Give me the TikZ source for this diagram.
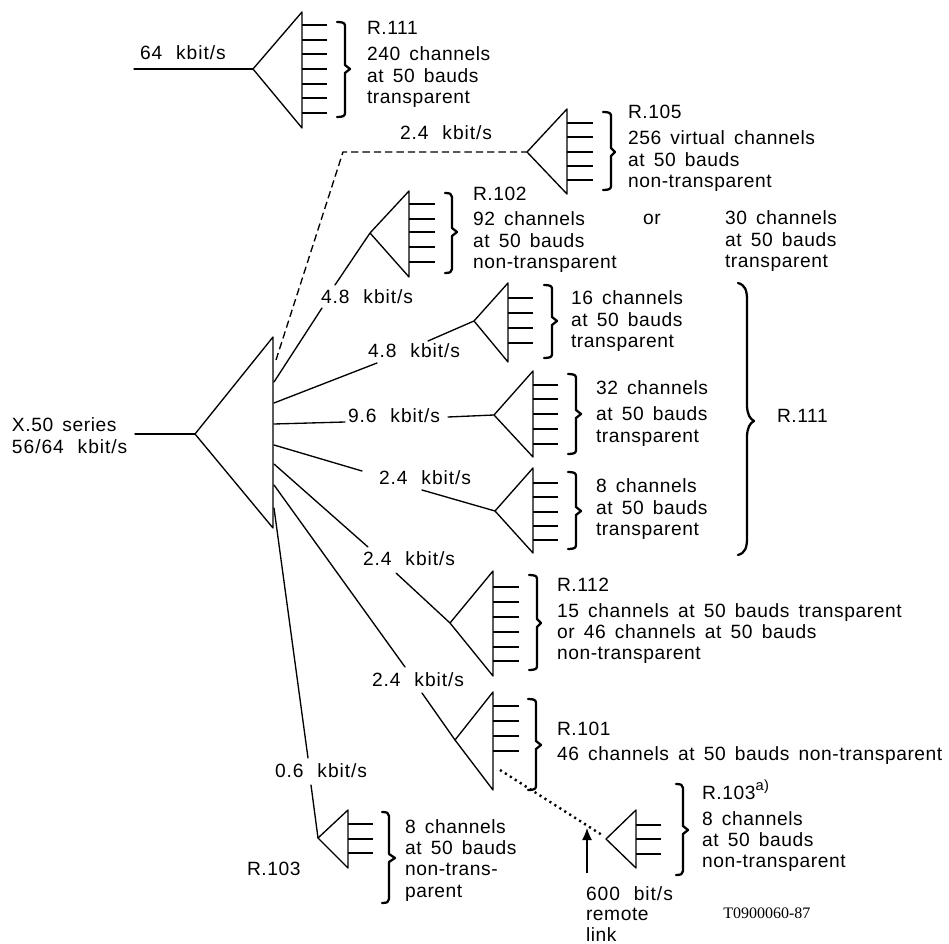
\documentclass[tikz,border=0pt]{standalone}
\usepackage{fontspec}
\setmainfont[LetterSpace=3,WordSpace=1.55]{Liberation Sans}
\newfontfamily\ratefont[LetterSpace=5,WordSpace=2.2]{Liberation Sans}
\newfontfamily\codefont{Liberation Serif}
\usetikzlibrary{arrows.meta}
\tikzset{
  wire/.style={line width=1pt,line cap=round,line join=round},
  stub/.style={line width=1pt},
  bracket/.style={line width=1.7pt,line join=round,line cap=round},
  lab/.style={anchor=base west,inner sep=0pt,outer sep=0pt,font=\fontsize{14.4}{16.1}\selectfont},
  rate/.style={anchor=base west,inner sep=0pt,outer sep=0pt,font=\ratefont\fontsize{14.4}{16.1}\selectfont},
  dashwire/.style={line width=1pt,dash pattern=on 5.5pt off 3pt},
  dotwire/.style={line width=1.8pt,dash pattern=on 1.6pt off 2.8pt},
}
\newcommand{\lns}[1]{\begin{tabular}[t]{@{}l@{}}#1\end{tabular}}
% fan: name, apex x,y, side x, top, bottom, stub end x, stub ys
\newcommand{\fan}[8]{%
  \coordinate (#1) at (#2,#3);
  \coordinate (#1t) at (#4,#5);
  \coordinate (#1b) at (#4,#6);
  \draw[wire] (#1t) -- (#1) -- (#1b) -- cycle;
  \foreach \yy in {#8} {\draw[stub] (#4,\yy) -- (#7,\yy);}
}
% bracket: x, top, bottom, mid, left x, tip x
\newcommand{\brk}[6]{%
  \draw[bracket] (#5,#2) .. controls (#1-2,#2) and (#1,#2+1) .. (#1,#2+4)
    -- (#1,#4-4) -- (#6,#4) -- (#1,#4+4) -- (#1,#3-4)
    .. controls (#1,#3-1) and (#1-2,#3) .. (#5,#3);
}
\begin{document}
\begin{tikzpicture}[x=0.75pt,y=-0.75pt]
\useasboundingbox (0,0) rectangle (949,944);

% main fan
\fan{M}{195}{434}{273}{337}{528}{273}{}
\coordinate (Min) at (135,434);
\draw[wire] (Min) -- (M);
\node[lab] (xfifty) at (12,432) {\lns{X.50 series\\{\ratefont 56/64 kbit/s}}};

% top fan
\fan{A}{253}{69}{302}{12}{128}{327}{25,40,54,69,84,98,113}
\coordinate (Ain) at (134,69);
\draw[wire] (Ain) -- (A);
\node[rate] (la) at (140,60) {64 kbit/s};
\brk{345}{22}{117}{69}{337}{350}
\node[lab] (ta0) at (367,35) {R.111};
\node[lab] (ta) at (367,61) {\lns{240 channels\\at 50 bauds\\transparent}};

% R.105
\fan{B}{527}{152}{567}{109}{194}{593}{123,137,152,166,180}
\coordinate (Mb) at (276,360);
\coordinate (Bk) at (343,152);
\draw[dashwire] (Mb) -- (Bk) -- (B);
\node[rate] (lb) at (400,140) {2.4 kbit/s};
\brk{611}{112}{190}{152}{603}{615}
\node[lab] (tb0) at (628,119) {R.105};
\node[lab] (tb) at (628,145) {\lns{256 virtual channels\\at 50 bauds\\non-transparent}};

% R.102
\fan{C}{370}{233}{409}{191}{277}{435}{204,219,232,247,262}
\coordinate (Mc) at (274,382);
\coordinate (Mc1) at (322,308);
\coordinate (Cc) at (335,285);
\draw[wire] (Mc) -- (Mc1);
\draw[wire] (Cc) -- (C);
\node[rate] (lc) at (321,304) {4.8 kbit/s};
\brk{452}{193}{273}{232}{445}{457}
\node[lab] (tc0) at (473,201) {R.102};
\node[lab] (tc) at (473,226) {\lns{92 channels\\at 50 bauds\\non-transparent}};
\node[lab] (tcor) at (643,225) {or};
\node[lab] (tc2) at (725,225) {\lns{30 channels\\at 50 bauds\\transparent}};

% 16 channels
\fan{D}{474}{321}{508}{283}{362}{533}{298,313,328,343}
\coordinate (Md) at (274,403);
\coordinate (Md1) at (377,363);
\coordinate (Dd) at (428,341);
\draw[wire] (Md) -- (Md1);
\draw[wire] (Dd) -- (D);
\node[rate] (ld) at (368,358) {4.8 kbit/s};
\brk{552}{285}{358}{321}{544}{557}
\node[lab] (td) at (571,305) {\lns{16 channels\\at 50 bauds\\transparent}};

% 32 channels
\fan{E}{494}{415}{533}{371}{457}{558}{385,399,414,429,444}
\coordinate (Me) at (274,424);
\coordinate (Me1) at (345,422);
\coordinate (Ee) at (448,417);
\draw[wire] (Me) -- (Me1);
\draw[wire] (Ee) -- (E);
\node[rate] (le) at (348,423) {9.6 kbit/s};
\brk{576}{374}{454}{414}{568}{581}
\node[lab] (te) at (596,395) {\lns{32 channels\\[3.4pt]at 50 bauds\\transparent}};

% 8 channels
\fan{F}{495}{511}{533}{468}{553}{558}{483,497,512,526,540}
\coordinate (Mf) at (274,445);
\coordinate (Mf1) at (362,471);
\coordinate (Ff) at (422,490);
\draw[wire] (Mf) -- (Mf1);
\draw[wire] (Ff) -- (F);
\node[rate] (lf) at (379,484) {2.4 kbit/s};
\brk{576}{472}{549}{511}{568}{581}
\node[lab] (tf) at (596,493) {\lns{8 channels\\at 50 bauds\\transparent}};

% big bracket
\draw[bracket] (738,283) .. controls (745,285) and (747,290) .. (747,300)
  -- (747,405) .. controls (747,414) and (750,419) .. (754,421)
  .. controls (750,423) and (747,428) .. (747,437)
  -- (747,538) .. controls (747,548) and (745,553) .. (738,555);
\node[lab] (tr) at (777,423) {R.111};

% R.112
\fan{G}{450}{623}{493}{571}{676}{519}{587,602,617,632,647,661}
\coordinate (Mg) at (274,464);
\coordinate (Mg1) at (368,547);
\coordinate (Gg) at (396,573);
\draw[wire] (Mg) -- (Mg1);
\draw[wire] (Gg) -- (G);
\node[rate] (lg) at (363,565) {2.4 kbit/s};
\brk{537}{575}{670}{623}{529}{541}
\node[lab] (tg0) at (557,591) {R.112};
\node[lab] (tg) at (557,617) {\lns{15 channels at 50 bauds transparent\\or 46 channels at 50 bauds\\non-transparent}};

% R.101
\fan{H}{455}{740}{493}{692}{790}{519}{706,721,736,751}
\coordinate (Mh) at (274,485);
\coordinate (Mh1) at (405,667);
\coordinate (Hh) at (422,693);
\draw[wire] (Mh) -- (Mh1);
\draw[wire] (Hh) -- (H);
\node[rate] (lh) at (372,686) {2.4 kbit/s};
\brk{536}{699}{790}{745}{528}{541}
\node[lab] (th0) at (557,735) {R.101};
\node[lab] (th) at (557,760) {46 channels at 50 bauds non-transparent};

% R.103 remote
\fan{J}{606}{839}{636}{810}{868}{661}{825,839,854}
\coordinate (Hd) at (500,770);
\coordinate (Jd) at (602,835);
\draw[dotwire] (Hd) -- (Jd);
\coordinate (Up) at (587,873);
\coordinate (Uq) at (587,828);
\draw[line width=1pt,-{Latex[length=9pt,width=7.5pt]}] (Up) -- (Uq);
\brk{683}{784}{875}{830}{676}{688}
\node[lab] (tj0) at (702,799) {R.103\raisebox{6.5pt}{\fontsize{11}{12}\selectfont a)}};
\node[lab] (tj) at (702,825) {\lns{8 channels\\at 50 bauds\\non-transparent}};
\node[lab,font=\fontsize{14.4}{15.5}\selectfont] (tk) at (586,900) {\lns{{\ratefont 600 bit/s}\\remote\\link}};
\node[anchor=base west,inner sep=0pt,font=\codefont\fontsize{12}{14}\selectfont] (code) at (723,918) {T0900060-87};

% R.103 local
\fan{K}{318}{838}{348}{810}{868}{373}{824,839,853}
\coordinate (Mk) at (274,508);
\coordinate (Mk1) at (308,758);
\coordinate (Kk) at (311,785);
\draw[wire] (Mk) -- (Mk1);
\draw[wire] (Kk) -- (K);
\node[rate] (lk) at (275,777) {0.6 kbit/s};
\brk{389}{812}{903}{858}{382}{395}
\node[lab] (tk0) at (405,833) {\lns{8 channels\\at 50 bauds\\non-trans-\\parent}};
\node[lab] (tl) at (247,875) {R.103};
\end{tikzpicture}
\end{document}
